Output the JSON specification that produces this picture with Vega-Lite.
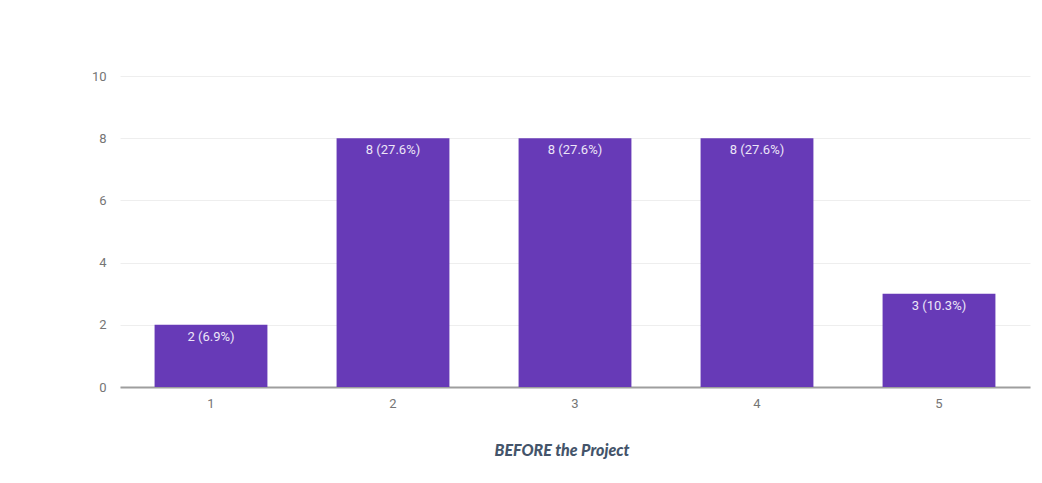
{
  "$schema": "https://vega.github.io/schema/vega-lite/v6.json",
  "autosize": "none",
  "width": 910,
  "height": 311,
  "padding": {"left": 120, "top": 76, "right": 12, "bottom": 96},
  "background": "white",
  "data": {"values": [
    {"rating": "1", "count": 2, "label": "2 (6.9%)"},
    {"rating": "2", "count": 8, "label": "8 (27.6%)"},
    {"rating": "3", "count": 8, "label": "8 (27.6%)"},
    {"rating": "4", "count": 8, "label": "8 (27.6%)"},
    {"rating": "5", "count": 3, "label": "3 (10.3%)"}
  ]},
  "title": {
    "text": "BEFORE the Project",
    "orient": "bottom",
    "anchor": "middle",
    "offset": 33,
    "font": "Lato",
    "fontSize": 16,
    "fontWeight": 900,
    "fontStyle": "italic",
    "color": "#44546a",
    "dx": -13
  },
  "config": {
    "view": {"stroke": null},
    "axis": {"labelFont": "Roboto", "labelFontSize": 13, "labelColor": "#757575"}
  },
  "encoding": {
    "x": {
      "field": "rating", "type": "nominal", "sort": null,
      "scale": {"paddingInner": 0.38, "paddingOuter": 0.19},
      "axis": {"title": null, "labelAngle": 0, "ticks": false, "labelPadding": 10, "domainColor": "#9e9e9e", "domainWidth": 2, "grid": false}
    },
    "y": {
      "field": "count", "type": "quantitative",
      "scale": {"domain": [0, 10]},
      "axis": {"title": null, "values": [0, 2, 4, 6, 8, 10], "domain": false, "ticks": false, "labelPadding": 14, "gridColor": "#eeeeee", "gridWidth": 1}
    }
  },
  "layer": [
    {"mark": {"type": "bar", "color": "#673ab7"}},
    {"mark": {"type": "text", "baseline": "top", "dy": 6, "color": "#ece6f7", "font": "Roboto", "fontSize": 13}, "encoding": {"text": {"field": "label"}}}
  ]
}
